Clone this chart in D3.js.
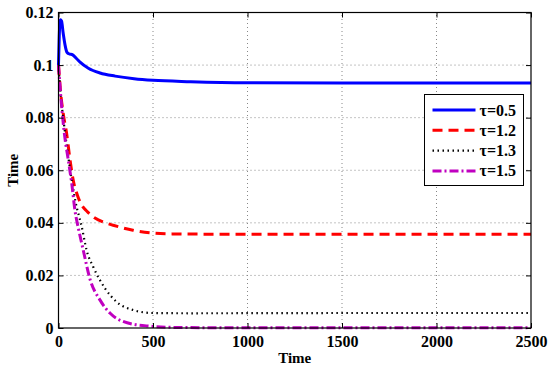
<!DOCTYPE html>
<html>
<head>
<meta charset="utf-8">
<script src="https://cdn.jsdelivr.net/npm/d3@7"></script>
<style>
  body { margin: 0; background: #fff; }
  text { font-family: "Liberation Serif", "Times New Roman", serif; font-weight: bold; }
</style>
</head>
<body>
<div class="container"></div>
<script>
const xTicks = [0, 500, 1000, 1500, 2000, 2500];
const yTicks = [0, 0.02, 0.04, 0.06, 0.08, 0.1, 0.12];
const yTickLabels = ['0', '0.02', '0.04', '0.06', '0.08', '0.1', '0.12'];

// readings: [time, value]
const tau05 = [[0, 0.1], [4, 0.111], [10, 0.1172], [16, 0.1168], [25, 0.112], [35, 0.1075], [45, 0.1048],
  [55, 0.1043], [75, 0.1039], [95, 0.1025], [114, 0.1011], [158, 0.0988], [220, 0.097], [300, 0.0958],
  [400, 0.0948], [500, 0.0942], [700, 0.0937], [1000, 0.0933], [1500, 0.0932], [2000, 0.0932], [2500, 0.0932]];
const tau12 = [[0, 0.1], [10, 0.0905], [25, 0.0816], [43, 0.074], [60, 0.0645], [78, 0.0562], [100, 0.0505],
  [125, 0.0465], [149, 0.0445], [193, 0.0418], [240, 0.0402], [289, 0.0391], [394, 0.0372], [500, 0.0361],
  [600, 0.0358], [800, 0.0357], [1500, 0.0357], [2500, 0.0357]];
const tau13 = [[0, 0.1], [10, 0.09], [30, 0.077], [60, 0.061], [90, 0.048], [123, 0.0385], [149, 0.0295],
  [184, 0.0232], [246, 0.0151], [308, 0.0099], [396, 0.0068], [500, 0.0057], [700, 0.0056], [1500, 0.0057], [2500, 0.0057]];
const tau15 = [[0, 0.1], [10, 0.09], [31, 0.074], [52, 0.0638], [70, 0.055], [87, 0.0448], [108, 0.037],
  [131, 0.0296], [167, 0.0185], [220, 0.0106], [272, 0.0057], [341, 0.0025], [466, 0.0008], [640, 0.0002],
  [900, 0.0001], [1500, 0.0001], [2500, 0.0001]];

const series = [
  { label: 'τ=0.5', values: tau05, color: '#0000ff', dash: null, width: 3 },
  { label: 'τ=1.2', values: tau12, color: '#ff0000', dash: '10,6', width: 3 },
  { label: 'τ=1.3', values: tau13, color: '#000000', dash: '1.5,3.5', width: 2.2 },
  { label: 'τ=1.5', values: tau15, color: '#c000c0', dash: '9,3,2,3', width: 3 }
];

const width = 550;
const height = 372;
const margin = { top: 12.5, right: 19, bottom: 44, left: 58.5 };
const fontSize = 16;

const svg = d3
  .select('.container')
  .append('svg')
  .attr('width', width)
  .attr('height', height);

const x = d3.scaleLinear().domain([0, 2500]).range([margin.left, width - margin.right]);
const y = d3.scaleLinear().domain([0, 0.12]).range([height - margin.bottom, margin.top]);

// grid
const grid = svg.append('g').attr('class', 'grid');
grid.selectAll('.gx')
  .data(xTicks.slice(1, -1))
  .enter()
  .append('line')
  .attr('x1', d => x(d)).attr('x2', d => x(d))
  .attr('y1', y(0)).attr('y2', y(0.12))
  .attr('stroke', '#888').attr('stroke-width', 1).attr('stroke-dasharray', '1,3');
grid.selectAll('.gy')
  .data(yTicks.slice(1, -1))
  .enter()
  .append('line')
  .attr('x1', x(0)).attr('x2', x(2500))
  .attr('y1', d => y(d)).attr('y2', d => y(d))
  .attr('stroke', '#888').attr('stroke-width', 1).attr('stroke-dasharray', '1,3');

// lines
const line = d3.line().x(d => x(d[0])).y(d => y(d[1])).curve(d3.curveMonotoneX);
const plot = svg.append('g');
series.forEach(s => {
  plot.append('path')
    .datum(s.values)
    .attr('d', line)
    .attr('fill', 'none')
    .attr('stroke', s.color)
    .attr('stroke-width', s.width)
    .attr('stroke-dasharray', s.dash);
});

// axes, ticks inward on all sides
const axisStyle = g => {
  g.select('.domain').remove();
  g.selectAll('.tick line').attr('stroke', '#000');
  g.selectAll('.tick text').attr('font-size', fontSize).attr('fill', '#000')
    .attr('font-family', '"Liberation Serif", serif').attr('font-weight', 'bold');
};

svg.append('g')
  .attr('transform', `translate(0, ${y(0)})`)
  .call(d3.axisBottom(x).tickValues(xTicks).tickFormat(d3.format('d')).tickSizeInner(-5).tickPadding(8))
  .call(axisStyle);
svg.append('g')
  .attr('transform', `translate(0, ${y(0.12)})`)
  .call(d3.axisTop(x).tickValues(xTicks).tickFormat('').tickSizeInner(-5))
  .call(axisStyle);
svg.append('g')
  .attr('transform', `translate(${x(0)}, 0)`)
  .call(d3.axisLeft(y).tickValues(yTicks).tickFormat((d, i) => yTickLabels[i]).tickSizeInner(-5).tickPadding(5))
  .call(axisStyle);
svg.append('g')
  .attr('transform', `translate(${x(2500)}, 0)`)
  .call(d3.axisRight(y).tickValues(yTicks).tickFormat('').tickSizeInner(-5))
  .call(axisStyle);

svg.append('rect')
  .attr('x', x(0)).attr('y', y(0.12))
  .attr('width', x(2500) - x(0)).attr('height', y(0) - y(0.12))
  .attr('fill', 'none').attr('stroke', '#000').attr('stroke-width', 1.2);

// axis titles
svg.append('text')
  .attr('x', (x(0) + x(2500)) / 2)
  .attr('y', 363)
  .attr('text-anchor', 'middle')
  .attr('font-size', 15)
  .text('Time');

svg.append('text')
  .attr('transform', `translate(17.5, ${(y(0) + y(0.12)) / 2}) rotate(-90)`)
  .attr('text-anchor', 'middle')
  .attr('font-size', 15)
  .text('Time');

// legend
const legend = svg.append('g').attr('transform', 'translate(424.5, 94.5)');
legend.append('rect')
  .attr('width', 99).attr('height', 91)
  .attr('fill', '#fff').attr('stroke', '#000').attr('stroke-width', 1);

series.forEach((s, i) => {
  const ly = 15.5 + i * 20.3;
  legend.append('line')
    .attr('x1', 8).attr('x2', 51)
    .attr('y1', ly).attr('y2', ly)
    .attr('stroke', s.color)
    .attr('stroke-width', s.width)
    .attr('stroke-dasharray', s.dash);
  legend.append('text')
    .attr('x', 55).attr('y', ly + 5.5)
    .attr('font-size', fontSize)
    .text(s.label);
});
</script>
</body>
</html>
